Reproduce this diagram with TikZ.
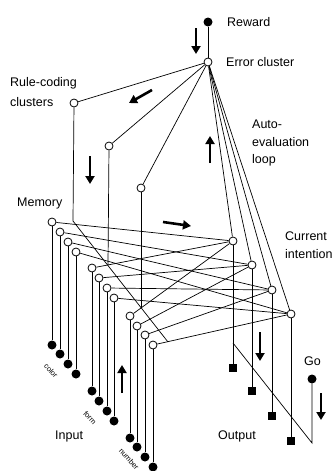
\documentclass[tikz,border=0pt]{standalone}
\usepackage{fontspec}
\setmainfont{Liberation Sans}
\usetikzlibrary{arrows.meta}
\pgfdeclarelayer{bg}
\pgfsetlayers{bg,main}
\begin{document}
\begin{tikzpicture}[x=1pt,y=-1pt,
  opn/.style={circle,draw,fill=white,inner sep=0pt,minimum size=8pt,line width=0.8pt},
  fil/.style={circle,fill=black,inner sep=0pt,minimum size=9pt},
  sqr/.style={rectangle,fill=black,inner sep=0pt,minimum size=8.5pt},
  conn/.style={line width=0.7pt},
  bigarr/.style={line width=2.6pt,-{Triangle[width=9pt,length=8pt]}},
  lbl/.style={font=\fontsize{12.5}{15}\selectfont,inner sep=0pt,anchor=west},
  small/.style={font=\fontsize{7.5}{9}\selectfont,inner sep=0pt,rotate=-48}
]
\useasboundingbox (0,0) rectangle (335,471);

% top nodes
\node[fil] (rew) at (208,22) {};
\node[opn] (err) at (208,62) {};
\node[opn] (r1) at (74,103) {};
\node[opn] (r2) at (109,146) {};
\node[opn] (r3) at (141,188) {};

% memory clusters
\node[opn] (m1) at (52,222) {};
\node[opn] (m2) at (60,232) {};
\node[opn] (m3) at (68,242) {};
\node[opn] (m4) at (76,252) {};
\node[opn] (m5) at (92,268) {};
\node[opn] (m6) at (99,278) {};
\node[opn] (m7) at (107,288) {};
\node[opn] (m8) at (114,298) {};
\node[opn] (m9) at (130,316) {};
\node[opn] (m10) at (137,326) {};
\node[opn] (m11) at (145,335) {};
\node[opn] (m12) at (153,345) {};

% inputs
\node[fil] (i1) at (52,345) {};
\node[fil] (i2) at (60,354) {};
\node[fil] (i3) at (68,364) {};
\node[fil] (i4) at (76,374) {};
\node[fil] (i5) at (92,391) {};
\node[fil] (i6) at (99,401) {};
\node[fil] (i7) at (107,411) {};
\node[fil] (i8) at (114,421) {};
\node[fil] (i9) at (130,438) {};
\node[fil] (i10) at (137,447) {};
\node[fil] (i11) at (145,457) {};
\node[fil] (i12) at (153,467) {};

% intentions
\node[opn] (c1) at (233,241) {};
\node[opn] (c2) at (252,265) {};
\node[opn] (c3) at (272,290) {};
\node[opn] (c4) at (291,314) {};

% outputs
\node[sqr] (o1) at (233,368) {};
\node[sqr] (o2) at (252,391) {};
\node[sqr] (o3) at (272,416) {};
\node[sqr] (o4) at (291,441) {};

% go
\node[fil] (go) at (312,379) {};
\coordinate (gobot) at (312,443);
\coordinate (goend) at (233,343);

% rule-line bends / ends
\coordinate (r1bend) at (73,221);
\coordinate (r1end) at (168,342);
\coordinate (r2end) at (108,265);
\coordinate (r3end) at (141,308);

\begin{pgfonlayer}{bg}
\draw[conn] (rew) -- (err);
\foreach \t in {r1,r2,r3,c1,c2,c3,c4} \draw[conn] (err) -- (\t);
\draw[conn] (r1) -- (r1bend) -- (r1end);
\draw[conn] (r2) -- (r2end);
\draw[conn] (r3) -- (r3end);
\foreach \k in {1,...,12} \draw[conn] (m\k) -- (i\k);
\foreach \a/\b in {1/1,2/2,3/3,4/4,5/1,6/2,7/3,8/4,9/1,10/2,11/3,12/4}
  \draw[conn] (m\a) -- (c\b);
\foreach \k in {1,...,4} \draw[conn] (c\k) -- (o\k);
\draw[conn] (go) -- (gobot) -- (goend);
\end{pgfonlayer}

% arrows
\draw[bigarr] (196,28) -- (196,54);
\draw[bigarr] (152,90) -- (129,103);
\draw[bigarr] (210,163) -- (210,136);
\draw[bigarr] (90,156) -- (90,184);
\draw[bigarr] (163,222) -- (191,226);
\draw[bigarr] (122,393) -- (122,365);
\draw[bigarr] (260,332) -- (260,361);
\draw[bigarr] (321,393) -- (321,420);

% labels
\node[lbl] (lrew) at (227,22) {Reward};
\node[lbl] (lerr) at (226,62) {Error cluster};
\node[lbl] (lrule1) at (10,83) {Rule-coding};
\node[lbl] (lrule2) at (10,102) {clusters};
\node[lbl] (lauto1) at (252,124) {Auto-};
\node[lbl] (lauto2) at (252,142) {evaluation};
\node[lbl] (lauto3) at (252,160) {loop};
\node[lbl] (lmem) at (17,203) {Memory};
\node[lbl] (lcur1) at (285,236) {Current};
\node[lbl] (lcur2) at (285,254) {intention};
\node[lbl] (lgo) at (304,361) {Go};
\node[lbl] (lin) at (55,436) {Input};
\node[lbl] (lout) at (218,436) {Output};
\node[small] (lcolor) at (51,371) {color};
\node[small] (lform) at (90,418) {form};
\node[small] (lnum) at (129,459) {number};
\end{tikzpicture}
\end{document}
